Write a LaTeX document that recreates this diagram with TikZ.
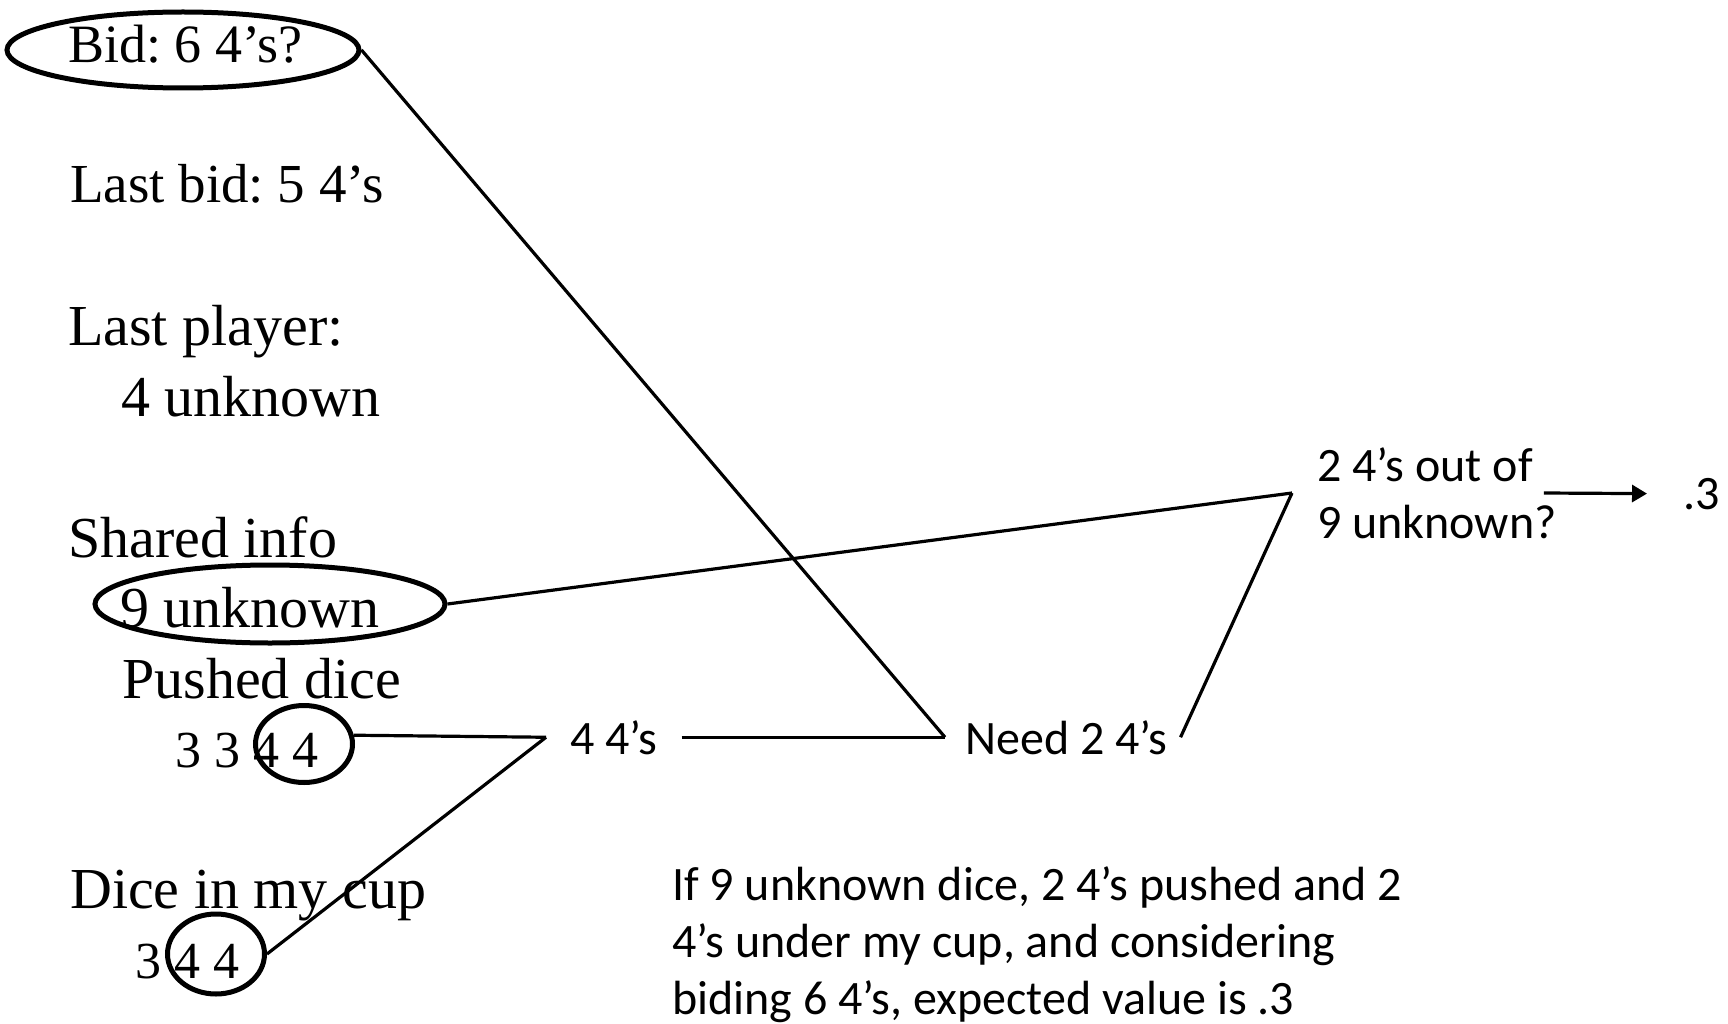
\documentclass[tikz,border=0pt]{standalone}
\usepackage{fontspec}
\setmainfont{Liberation Serif}
\newfontfamily\calib{Carlito}
\usetikzlibrary{arrows.meta,shapes.geometric}
\frenchspacing
\begin{document}
\begin{tikzpicture}[x=1pt,y=-1pt,
  serif/.style={font=\fontsize{58}{70}\selectfont, inner sep=0pt, anchor=base west},
  snug/.style={serif, font=\fontsize{55}{66}\selectfont},
  dice/.style={serif, font=\fontsize{52}{62}\selectfont},
  sans/.style={font=\calib\fontsize{48}{57}\selectfont, inner ysep=0pt},
  ring/.style={draw, ellipse, line width=5pt, inner sep=0pt},
  link/.style={line width=3.2pt},
  tip/.style={-{Triangle[length=15pt,width=17pt]}},
]
\useasboundingbox (0,0) rectangle (1728,1024);

% left column: game state
\node[snug, font=\fontsize{54}{65}\selectfont] (bid) at (68,63) {Bid: 6 4’s?};
\node[ring, minimum width=352pt, minimum height=76pt] (bidring) at (183,50) {};
\node[snug] (lastbid) at (70,203) {Last bid: 5 4’s};
\node[serif] (lastplayer) at (68,345) {Last player:};
\node[serif] (lpunknown) at (121,416) {4 unknown};
\node[serif] (shared) at (68,557) {Shared info};
\node[serif] (nine) at (120,627) {9 unknown};
\node[ring, minimum width=350pt, minimum height=78pt] (ninering) at (270,604) {};
\node[serif] (pushed) at (122,698) {Pushed dice};
\node[dice] (pusheddice) at (175,767) {3 3 4 4};
\node[ring, minimum width=97pt, minimum height=77pt] (pushring) at (304,744) {};
\node[serif] (cup) at (70,908) {Dice in my cup};
\node[dice] (cupdice) at (135,978) {3 4 4};
\node[ring, minimum width=97pt, minimum height=80pt] (cupring) at (216,954) {};

% reasoning chain
\node[sans, inner xsep=24pt, anchor=base west] (four) at (546,754) {4 4’s};
\node[sans, inner xsep=20pt, anchor=base west] (need) at (945,754) {Need 2 4’s};
\node[sans, align=left, inner xsep=25pt, anchor=west] (q) at (1292,493) {2 4’s out of\\9 unknown?};
\node[sans, inner xsep=36pt, anchor=base west] (val) at (1647,509) {.3};
\node[sans, align=left, inner sep=0pt, anchor=north west] (note) at (672,866)
  {If 9 unknown dice, 2 4’s pushed and 2\\4’s under my cup, and considering\\biding 6 4’s, expected value is .3};

% connectors
\draw[link] (pushring.10) -- (four.west);
\draw[link] (cupring.east) -- (four.west);
\draw[link] (four.east) -- (need.west);
\draw[link] (bidring.east) -- (need.west);
\draw[link] ([xshift=-7pt]need.east) -- (q.west);
\draw[link] (ninering.east) -- (q.west);
\draw[link, tip] ([xshift=-38pt]q.east) -- (val.west);
\end{tikzpicture}
\end{document}
